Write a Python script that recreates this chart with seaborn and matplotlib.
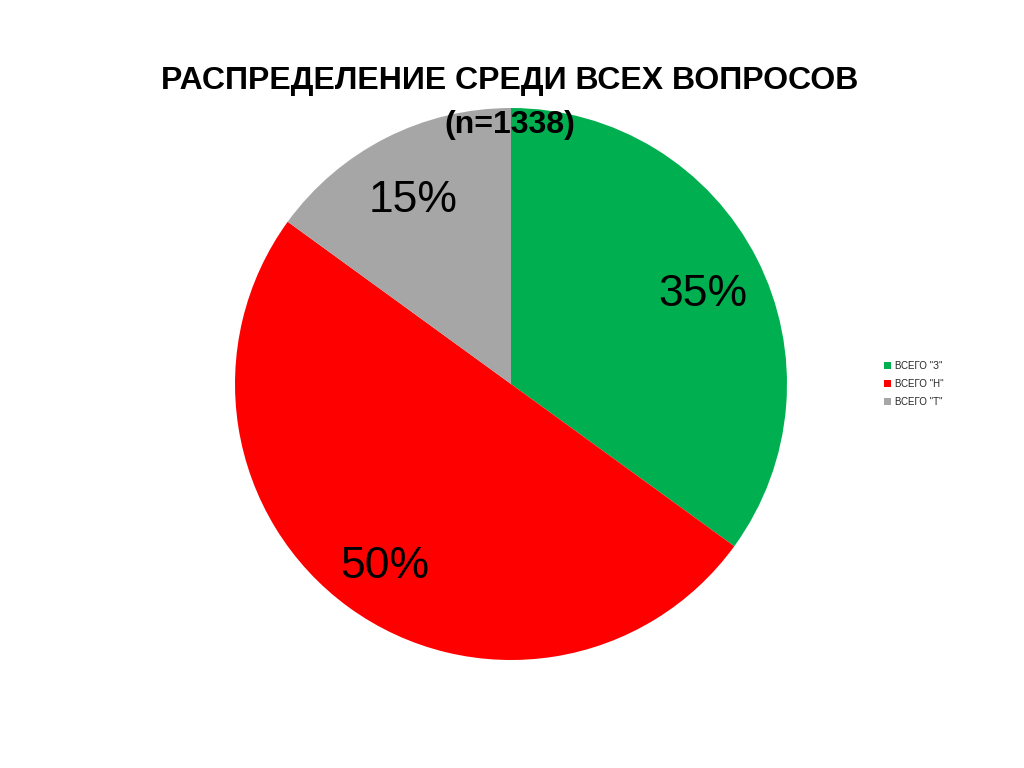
import matplotlib
matplotlib.use("Agg")
import matplotlib.pyplot as plt
import seaborn as sns

categories = ['ВСЕГО "З"', 'ВСЕГО "Н"', 'ВСЕГО "Т"']
shares = [35, 50, 15]
colors = ["#00B050", "#FF0000", "#A6A6A6"]
title_line1 = "РАСПРЕДЕЛЕНИЕ СРЕДИ ВСЕХ ВОПРОСОВ"
title_line2 = "(n=1338)"

sns.set_theme(style="white")
plt.rcParams['font.family'] = ['Liberation Sans', 'DejaVu Sans']

fig = plt.figure(figsize=(10.24, 7.68), dpi=100)
ax = fig.add_axes([235/1024, (768-660)/768, 552/1024, 552/768])
wedges, texts, autotexts = ax.pie(
    shares, colors=sns.color_palette(colors), startangle=90, counterclock=False,
    autopct=lambda p: f"{p:.0f}%", pctdistance=0.78, radius=1,
    textprops=dict(fontsize=32, color="black"),
    wedgeprops=dict(linewidth=0))
for t in autotexts:
    x, y = t.get_position()
    t.set_position((x, y - 0.03))
ax.set_xlim(-1, 1)
ax.set_ylim(-1, 1)
ax.set_aspect("equal")

tfont = dict(family=['Liberation Sans', 'DejaVu Sans'],
             fontsize=23, fontweight='bold', color='black')
fig.text(510/1024, 1 - 81/768, title_line1, ha='center', va='center', **tfont)
fig.text(510/1024, 1 - 125/768, title_line2, ha='center', va='center', **tfont)

fig.legend(wedges, categories, loc='center left', bbox_to_anchor=(875/1024, 1 - 384/768),
           frameon=False, fontsize=7, handlelength=0.7, handleheight=0.7,
           handletextpad=0.5, labelspacing=0.85)

fig.savefig("out.png", dpi=100)
